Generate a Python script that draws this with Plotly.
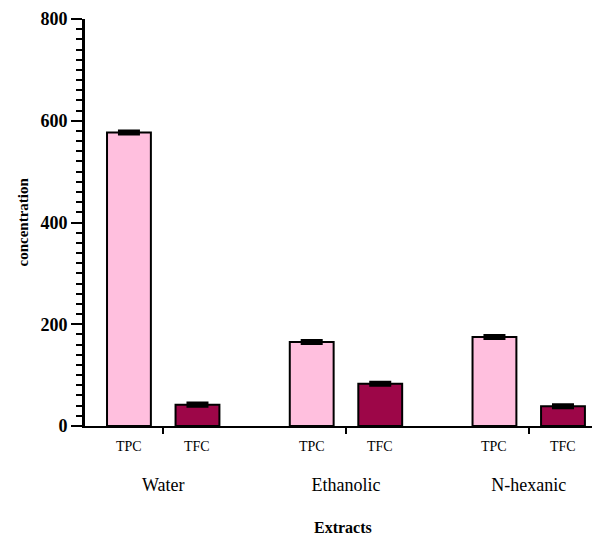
import plotly.graph_objects as go

extracts = ["Water", "Ethanolic", "N-hexanic"]
tpc_values = [577, 165, 175]
tfc_values = [42, 83, 39]
tpc_err = [2, 2, 2]
tfc_err = [2, 2, 2]
series_names = ["TPC", "TFC"]
y_ticks = [0, 200, 400, 600, 800]

PINK = "#FFBFDE"
WINE = "#9D0648"
FONT = "Liberation Serif"

fig = go.Figure()
for name, vals, errs, col in [
    (series_names[0], tpc_values, tpc_err, PINK),
    (series_names[1], tfc_values, tfc_err, WINE),
]:
    fig.add_trace(go.Bar(
        name=name, x=extracts, y=vals,
        marker=dict(color=col, line=dict(color="black", width=2)),
        error_y=dict(type="data", array=errs, visible=True,
                     color="black", thickness=4, width=11),
    ))

bargap = 0.25
# sub-category labels under each bar
slot = (1 - bargap) / 2
for i, _ in enumerate(extracts):
    for j, name in enumerate(series_names):
        fig.add_annotation(
            x=i + (j - 0.5) * slot, xref="x", y=0, yref="paper",
            yanchor="middle", yshift=-20, text=name, showarrow=False,
            font=dict(family=FONT, size=14, color="black"),
        )

# axis titles
fig.add_annotation(x=0.5, xref="paper", y=0, yref="paper", yanchor="middle",
                   yshift=-101, text="<b>Extracts</b>", showarrow=False,
                   font=dict(family=FONT, size=16, color="black"))
fig.add_annotation(x=0, xref="paper", xanchor="center", xshift=-63,
                   y=0.5, yref="paper", textangle=-90,
                   text="<b>concentration</b>", showarrow=False,
                   font=dict(family=FONT, size=15, color="black"))

# page body has an 8px default margin, so the figure is drawn 8px smaller/shifted
fig.update_layout(
    width=592, height=531,
    margin=dict(l=77, r=0, t=11, b=113),
    paper_bgcolor="white", plot_bgcolor="white",
    barmode="group", bargap=bargap, bargroupgap=0.36,
    showlegend=False,
    font=dict(family=FONT, color="black"),
)
fig.update_xaxes(
    range=[-0.428, 2.39], showline=True, linecolor="black", linewidth=2,
    ticks="outside", ticklen=6, tickwidth=2, tickcolor="black",
    tickfont=dict(family=FONT, size=18, color="black"),
    ticklabelstandoff=35, automargin=False,
    showgrid=False, zeroline=False,
)
fig.update_yaxes(
    range=[0, 800], tickvals=y_ticks, ticktext=[f"<b>{v}</b>" for v in y_ticks],
    showline=True, linecolor="black", linewidth=3,
    ticks="outside", ticklen=11, tickwidth=2, tickcolor="black",
    tickfont=dict(family=FONT, size=18, color="black"),
    minor=dict(dtick=20, ticks="outside", ticklen=6, tickwidth=2, tickcolor="black",
               showgrid=False),
    automargin=False,
    showgrid=False, zeroline=False,
)

fig.write_html("out.html")
